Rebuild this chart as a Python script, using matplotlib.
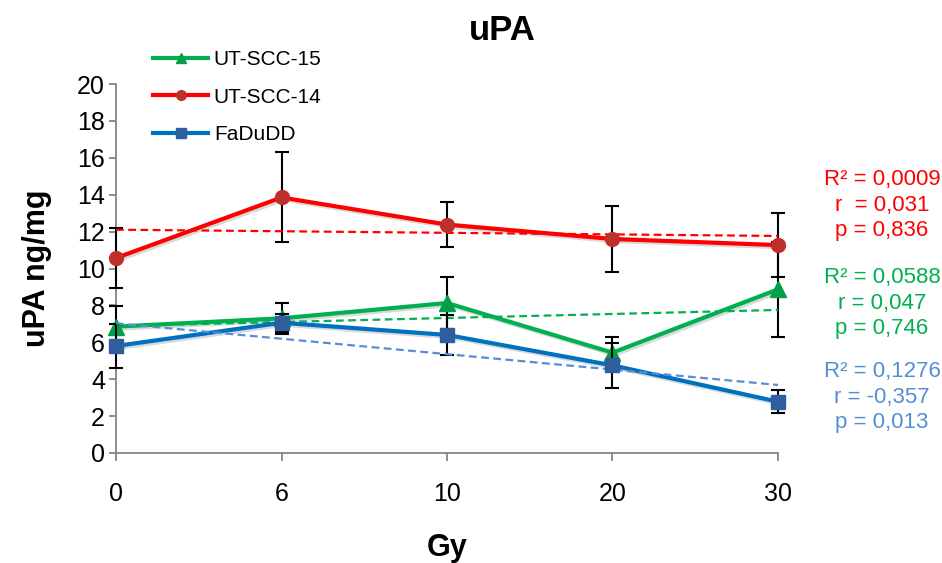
import matplotlib
matplotlib.use("Agg")
import matplotlib.pyplot as plt
import matplotlib.patheffects as pe
from matplotlib.lines import Line2D
import numpy as np

plt.rcParams["font.family"] = ["Liberation Sans", "DejaVu Sans"]

# dose categories (Gy)
doses = ["0", "6", "10", "20", "30"]

# mean uPA (ng/mg) and error per cell line
scc15 = [6.85, 7.30, 8.13, 5.44, 8.87]
scc15_err = [1.10, 0.85, 1.43, 0.87, 2.56]
scc14 = [10.57, 13.85, 12.38, 11.60, 11.27]
scc14_err = [1.62, 2.44, 1.22, 1.81, 1.75]
fadudd = [5.80, 7.06, 6.40, 4.75, 2.78]
fadudd_err = [1.20, 0.50, 1.09, 1.20, 0.62]

stats_14 = "R² = 0,0009\nr  = 0,031\np = 0,836"
stats_15 = "R² = 0,0588\nr = 0,047\np = 0,746"
stats_fa = "R² = 0,1276\nr = -0,357\np = 0,013"

GREEN, RED, BLUE, LBLUE = "#00B050", "#FF0000", "#0070C0", "#558ED5"
AXC = "#868686"

fig = plt.figure(figsize=(9.42, 5.63), dpi=100)
ax = fig.add_axes([116 / 942, 110 / 563, 662 / 942, 369 / 563])
x = np.arange(len(doses))

shadow = [pe.SimpleLineShadow(offset=(1.5, -1.5), alpha=0.15), pe.Normal()]

series = [
    (scc15, scc15_err, GREEN, GREEN, "^", "#00A048", 11, "UT-SCC-15", 3),
    (scc14, scc14_err, RED, RED, "o", "#C0302A", 10, "UT-SCC-14", 4),
    (fadudd, fadudd_err, BLUE, LBLUE, "s", "#2F5E9E", 9.5, "FaDuDD", 5),
]

handles = []
for vals, err, col, tcol, mk, mcol, ms, lab, z in series:
    ax.errorbar(x, vals, yerr=err, fmt="none", ecolor="black", elinewidth=1.5,
                capsize=5, capthick=1.5, zorder=z, clip_on=False)
    ax.plot(x, vals, color=col, lw=3, zorder=z, path_effects=shadow,
            solid_capstyle="round", clip_on=False)
    slope, icpt = np.polyfit(x, vals, 1)
    ax.plot(x, slope * x + icpt, color=tcol, lw=1.6, ls=(0, (3.5, 2)),
            zorder=z + 0.2, clip_on=False)
    ax.plot(x, vals, ls="none", marker=mk, ms=ms, mfc=mcol, mec=mcol,
            zorder=z + 0.5, clip_on=False)
    handles.append(Line2D([], [], color=col, lw=3, marker=mk, ms=7,
                          mfc=mcol, mec=mcol, label=lab))

ax.set_xlim(0, 4)
ax.set_ylim(0, 20)
ax.set_yticks(np.arange(0, 21, 2))
ax.set_xticks(x)
ax.set_xticklabels(doses)
for s in ["top", "right"]:
    ax.spines[s].set_visible(False)
for s in ["left", "bottom"]:
    ax.spines[s].set_color(AXC)
    ax.spines[s].set_linewidth(1.3)
ax.tick_params(axis="y", colors=AXC, labelcolor="black", labelsize=18,
               length=5, width=1.3, pad=3)
ax.tick_params(axis="x", colors=AXC, labelcolor="black", labelsize=18,
               length=6, width=1.3, pad=15)

fig.text(502 / 942, 1 - 30 / 563, "uPA", ha="center", va="center",
         fontsize=25, fontweight="bold")
fig.text(447 / 942, 1 - 548 / 563, "Gy", ha="center", va="center",
         fontsize=22, fontweight="bold")
fig.text(37 / 942, 1 - 268 / 563, "uPA ng/mg", ha="center", va="center",
         rotation=90, fontsize=22, fontweight="bold")

ax.legend(handles=handles, loc="upper left", bbox_to_anchor=(143 / 942, 1 - 40 / 563),
          bbox_transform=fig.transFigure, frameon=False, fontsize=15,
          handlelength=2.6, handletextpad=0.3, labelspacing=0.88, borderpad=0)

for txt, col, yc in [(stats_14, RED, 205), (stats_15, GREEN, 303), (stats_fa, LBLUE, 397)]:
    fig.text(882 / 942, 1 - yc / 563, txt, ha="center", va="center",
             fontsize=16, color=col, linespacing=1.3)

fig.savefig("out.png", dpi=100)
